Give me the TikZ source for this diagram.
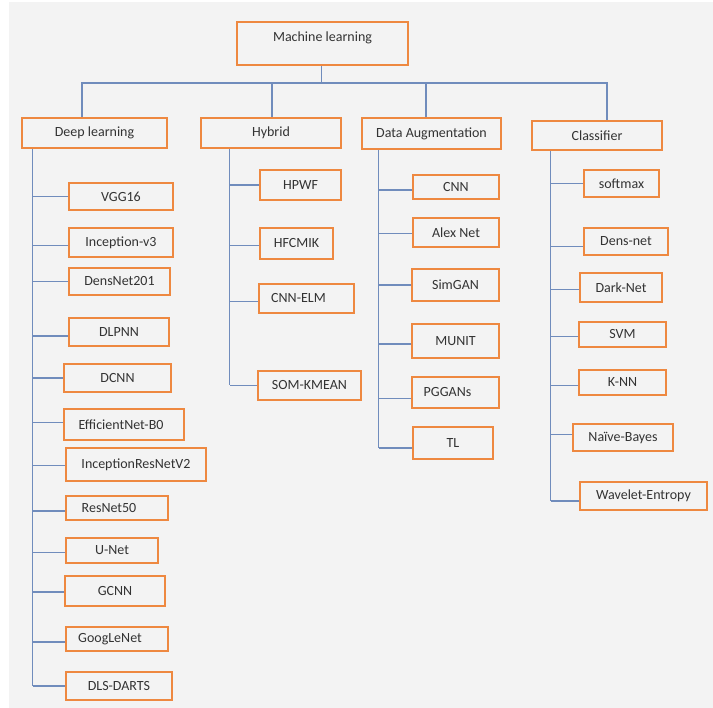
\documentclass[tikz,border=0pt]{standalone}
\usepackage{fontspec}
\setmainfont{Carlito}
\newcommand\shl[2]{#2\hspace*{#1pt}}
\definecolor{bg}{HTML}{F3F3F3}
\definecolor{bord}{HTML}{EE8840}
\definecolor{conn}{RGB}{112,140,188}
\definecolor{txt}{HTML}{333333}
\pgfdeclarelayer{bottom}
\pgfdeclarelayer{wires}
\pgfsetlayers{bottom,wires,main}
\begin{document}
\begin{tikzpicture}[x=1pt,y=-1pt,
  box/.style={draw=bord,line width=2.6pt,fill=bg,inner sep=0pt,text=txt,
    font=\fontsize{14}{16}\selectfont},
  wire/.style={draw=conn,line width=1.1pt}]
\useasboundingbox (0,0) rectangle (713,708);
\begin{pgfonlayer}{bottom}
\fill[bg] (9,2) rectangle (713,708);
\end{pgfonlayer}
% root
\node[box,minimum width=171,minimum height=43,text depth=14pt] (ml) at (322.5,43.5) {Machine learning};
% level 1
\node[box,minimum width=145,minimum height=30] (dl) at (94.5,133) {Deep learning};
\node[box,minimum width=140,minimum height=30] (hy) at (271,133) {Hybrid};
\node[box,minimum width=139,minimum height=31] (da) at (431.5,133.5) {Data Augmentation};
\node[box,minimum width=130,minimum height=29] (cl) at (597,135.5) {Classifier};
% deep learning children
\node[box,minimum width=104,minimum height=27] (vgg) at (121,196.5) {VGG16};
\node[box,minimum width=104,minimum height=29] (inc) at (121,242.5) {Inception-v3};
\node[box,minimum width=101,minimum height=27] (dn) at (119.5,281.5) {DensNet201};
\node[box,minimum width=100,minimum height=28] (dlp) at (119,332) {DLPNN};
\node[box,minimum width=107,minimum height=28] (dcn) at (117.5,378) {DCNN};
\node[box,minimum width=120,minimum height=31] (eff) at (124,424.5) {\shl{6}{EfficientNet-B0}};
\node[box,minimum width=140,minimum height=33] (irn) at (136,464.5) {InceptionResNetV2};
\node[box,minimum width=102,minimum height=24] (res) at (117,508) {\shl{16}{ResNet50}};
\node[box,minimum width=92,minimum height=25] (un) at (112,550.5) {U-Net};
\node[box,minimum width=100,minimum height=30] (gc) at (115,591) {GCNN};
\node[box,minimum width=102,minimum height=24] (gn) at (117,639) {\shl{14}{GoogLeNet}};
\node[box,minimum width=106,minimum height=28] (dls) at (119,686) {DLS-DARTS};
% hybrid children
\node[box,minimum width=81,minimum height=30] (hp) at (300.5,185) {HPWF};
\node[box,minimum width=73,minimum height=31] (hf) at (296.5,243.5) {HFCMIK};
\node[box,minimum width=95,minimum height=29] (ce) at (306.5,298.5) {\shl{16}{CNN-ELM}};
\node[box,minimum width=103,minimum height=29] (so) at (309.5,385.5) {SOM-KMEAN};
% data augmentation children
\node[box,minimum width=86,minimum height=24] (cn) at (456,187) {CNN};
\node[box,minimum width=86,minimum height=29] (an) at (456,232.5) {Alex Net};
\node[box,minimum width=87,minimum height=32] (sg) at (455.5,285) {SimGAN};
\node[box,minimum width=87,minimum height=34] (mu) at (455.5,341) {MUNIT};
\node[box,minimum width=87,minimum height=31] (pg) at (455.5,392.5) {\shl{16}{PGGANs}};
\node[box,minimum width=80,minimum height=32] (tl) at (453,443) {TL};
% classifier children
\node[box,minimum width=75,minimum height=27] (sm) at (621.5,183.5) {softmax};
\node[box,minimum width=84,minimum height=27] (de) at (626,241.5) {Dens-net};
\node[box,minimum width=82,minimum height=29] (dk) at (621,287.5) {Dark-Net};
\node[box,minimum width=87,minimum height=25] (sv) at (622.5,334.5) {SVM};
\node[box,minimum width=87,minimum height=25] (kn) at (622.5,382.5) {K-NN};
\node[box,minimum width=100,minimum height=27] (nb) at (623,437.5) {Naïve-Bayes};
\node[box,minimum width=127,minimum height=28] (wv) at (643.5,496) {Wavelet-Entropy};
\begin{pgfonlayer}{wires}
% top connectors
\coordinate (bus) at (321.7,83);
\draw[wire] (ml.south -| bus) -- (bus);
\draw[wire] ([xshift=-12.5]dl.north) |- (bus) -| ([xshift=10]cl.north);
\draw[wire] ([xshift=1]hy.north) -- ([xshift=1]hy.north |- bus);
\draw[wire] ([xshift=-5.5]da.north) -- ([xshift=-5.5]da.north |- bus);
% deep learning trunk
\coordinate (t1) at ([xshift=12]dl.south west);
\draw[wire] (t1) -- (t1 |- dls.west);
\foreach \c/\s in {vgg/0,inc/-3,dn/0,dlp/-4,dcn/0,eff/2,irn/-1,res/-3,un/-2,gc/-1,gn/-3,dls/0}
  \draw[wire] ([yshift=\s]\c.west) -- ([yshift=\s]\c.west -| t1);
% hybrid trunk
\coordinate (t2) at ([xshift=30]hy.south west);
\draw[wire] (t2) -- (t2 |- so.west);
\foreach \c/\s in {hp/0,hf/-2,ce/-3,so/0}
  \draw[wire] ([yshift=\s]\c.west) -- ([yshift=\s]\c.west -| t2);
% data augmentation trunk
\coordinate (t3) at ([xshift=18]da.south west);
\draw[wire] (t3) -- ([yshift=-5]t3 |- tl.west);
\foreach \c/\s in {cn/-3,an/-1,sg/0,mu/-3,pg/-6,tl/-5}
  \draw[wire] ([yshift=\s]\c.west) -- ([yshift=\s]\c.west -| t3);
% classifier trunk
\coordinate (t4) at ([xshift=20]cl.south west);
\draw[wire] (t4) -- ([yshift=-5]t4 |- wv.west);
\foreach \c/\s in {sm/0,de/-5,dk/-2,sv/-2,kn/-3,nb/3,wv/-5}
  \draw[wire] ([yshift=\s]\c.west) -- ([yshift=\s]\c.west -| t4);
\end{pgfonlayer}
\end{tikzpicture}
\end{document}
